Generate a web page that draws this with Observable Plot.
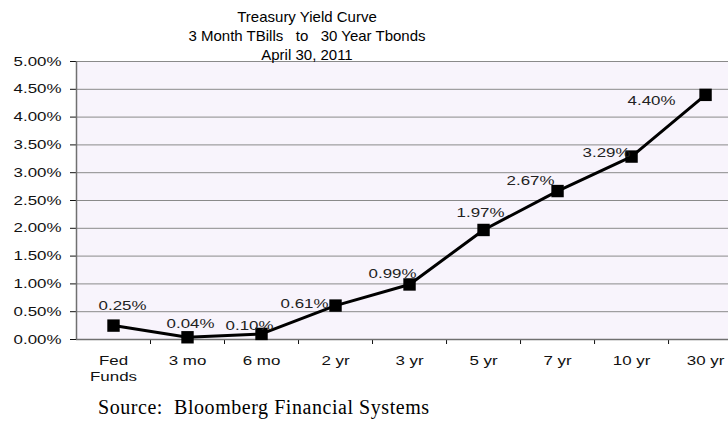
<!DOCTYPE html>
<html><head><meta charset="utf-8">
<script src="https://cdn.jsdelivr.net/npm/d3@7"></script>
<script src="https://cdn.jsdelivr.net/npm/@observablehq/plot@0.6"></script>
<style>
body{margin:0;background:#fff;}
#wrap{position:relative;width:728px;height:427px;overflow:hidden;}
#title{position:absolute;left:0;top:7px;width:614px;text-align:center;font:15px "Liberation Sans",Arial,sans-serif;line-height:19px;white-space:pre;color:#000;}
#source{position:absolute;left:98px;top:396px;font:20px "Liberation Serif","Times New Roman",serif;white-space:pre;letter-spacing:0.55px;color:#000;}
</style></head>
<body>
<div id="wrap"><div id="chart"></div>
<div id="title">Treasury Yield Curve
3 Month TBills   to   30 Year Tbonds
April 30, 2011</div>
<div id="source">Source:  Bloomberg Financial Systems</div>
</div>
<script>
const categories = ["Fed\nFunds","3 mo","6 mo","2 yr","3 yr","5 yr","7 yr","10 yr","30 yr"];
const yields = [0.25, 0.04, 0.10, 0.61, 0.99, 1.97, 2.67, 3.29, 4.40];
const yTicks = [0, 0.5, 1, 1.5, 2, 2.5, 3, 3.5, 4, 4.5, 5];

const data = categories.map((c, i) => ({i, cat: c, y: yields[i]}));
const boundaries = categories.slice(1).map((_, i) => i + 0.5);
// label placement offsets (px) relative to each point
const labelOffsets = [[9,-20],[3,-13],[-12,-8],[-31,-2],[-17,-11],[-3,-17],[-27,-10],[-25,-4],[-54,6]];

const fmt = d => d.toFixed(2) + "%";

const chart = Plot.plot({
  width: 728,
  height: 427,
  marginTop: 61,
  marginBottom: 88,
  marginLeft: 76,
  marginRight: 0,
  style: {fontFamily: "'Liberation Sans', Arial, sans-serif", fontSize: "13px", color: "#111", background: "#fff"},
  x: {type: "linear", domain: [-0.5, 8.31], ticks: boundaries, tickFormat: () => "", tickSize: 5, label: null},
  y: {domain: [0, 5], ticks: yTicks, tickFormat: fmt, tickSize: 6, tickPadding: 9, label: null},
  marks: [
    Plot.frame({fill: "#f8f4fc", stroke: null}),
    Plot.ruleY(yTicks.slice(1), {stroke: "#8a8a8a", strokeWidth: 1}),
    Plot.ruleY([0], {stroke: "#707070", strokeWidth: 1.5}),
    Plot.ruleX([-0.5], {stroke: "#707070", strokeWidth: 1.5}),
    Plot.line(data, {x: "i", y: "y", stroke: "#000", strokeWidth: 3}),
    Plot.dot(data, {x: "i", y: "y", symbol: "square", r: 7, fill: "#000", stroke: null}),
    ...data.map((d, k) => Plot.text([d], {
      x: "i", y: "y", text: d => fmt(d.y), dx: labelOffsets[k][0], dy: labelOffsets[k][1],
      fill: "#222", fontSize: 13
    })),
    Plot.text(data, {x: "i", y: 0, text: "cat", dy: 14, lineAnchor: "top", lineHeight: 1.23, fill: "#111", fontSize: 13})
  ]
});
document.getElementById("chart").appendChild(chart);

// horizontally stretch the small chart texts like the original
chart.querySelectorAll("text").forEach(t => {
  const spans = t.querySelectorAll("tspan");
  const targets = spans.length ? Array.from(spans) : [t];
  targets.forEach(s => {
    const w = s.getComputedTextLength();
    if (w > 0) { s.setAttribute("textLength", (w * 1.3).toFixed(1)); s.setAttribute("lengthAdjust", "spacingAndGlyphs"); }
  });
});
</script>
</body></html>
